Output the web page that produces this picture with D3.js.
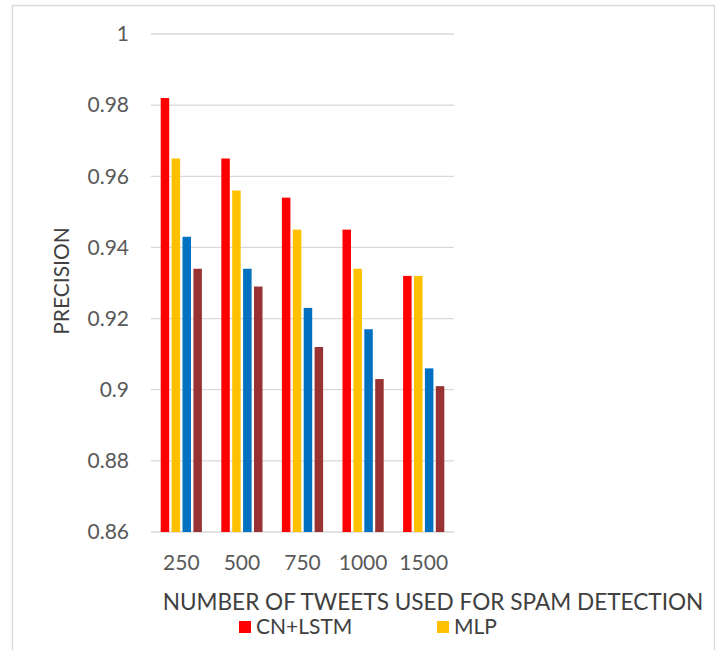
<!DOCTYPE html>
<html>
<head>
<meta charset="utf-8">
<script src="https://cdn.jsdelivr.net/npm/d3@7/dist/d3.min.js"></script>
<style>
  html, body { margin: 0; padding: 0; background: #fff; }
  svg { display: block; }
  text { font-family: Lato, "Open Sans", sans-serif; }
</style>
</head>
<body>
<svg id="chart" width="720" height="650"></svg>
<script>
// Tweet counts on the x axis
const categories = ["250", "500", "750", "1000", "1500"];

// Precision per model, one value per tweet count
const seriesNames = ["CN+LSTM", "MLP", "Series3", "Series4"];
const cnLstm = [0.982, 0.965, 0.954, 0.945, 0.932];
const mlp    = [0.965, 0.956, 0.945, 0.934, 0.932];
const series3 = [0.943, 0.934, 0.923, 0.917, 0.906];
const series4 = [0.934, 0.929, 0.912, 0.903, 0.901];
const seriesValues = [cnLstm, mlp, series3, series4];
const seriesColors = ["#FF0000", "#FFC000", "#0070C0", "#993333"];

// Legend entries shown in the visible first row
const legendEntries = ["CN+LSTM", "MLP"];

// Y axis ticks
const yTicks = [0.86, 0.88, 0.9, 0.92, 0.94, 0.96, 0.98, 1];
const yTickLabels = ["0.86", "0.88", "0.9", "0.92", "0.94", "0.96", "0.98", "1"];

const svg = d3.select("#chart");

// Chart area frame (light outline, open at the bottom)
svg.append("path")
  .attr("d", "M12.5,650 L12.5,5.5 L714.5,5.5 L714.5,650")
  .attr("fill", "none")
  .attr("stroke", "#d9d9d9")
  .attr("stroke-width", 1.3);

const plot = { left: 151, right: 454, top: 34, bottom: 532 };

const x = d3.scaleBand()
  .domain(categories)
  .range([plot.left, plot.right])
  .paddingInner(0.32)
  .paddingOuter(0.16);

const x1 = d3.scaleBand()
  .domain(d3.range(seriesNames.length))
  .range([0, x.bandwidth()])
  .paddingInner(0.22);

const y = d3.scaleLinear()
  .domain([0.86, 1])
  .range([plot.bottom, plot.top]);

// Horizontal gridlines
svg.append("g")
  .selectAll("line")
  .data(yTicks)
  .join("line")
  .attr("x1", plot.left)
  .attr("x2", plot.right)
  .attr("y1", d => y(d))
  .attr("y2", d => y(d))
  .attr("stroke", "#d9d9d9")
  .attr("stroke-width", 1.3);

// Grouped bars
const groups = svg.append("g")
  .selectAll("g")
  .data(categories)
  .join("g")
  .attr("transform", d => `translate(${x(d)},0)`);

groups.selectAll("rect")
  .data((c, i) => seriesValues.map((vals, s) => ({ s, v: vals[i] })))
  .join("rect")
  .attr("x", d => x1(d.s))
  .attr("width", x1.bandwidth())
  .attr("y", d => y(d.v))
  .attr("height", d => y(0.86) - y(d.v))
  .attr("fill", d => seriesColors[d.s]);

// Y axis (labels only)
const yAxis = d3.axisLeft(y)
  .tickValues(yTicks)
  .tickFormat((d, i) => yTickLabels[i])
  .tickSize(0)
  .tickPadding(0);

svg.append("g")
  .attr("transform", "translate(129,0)")
  .call(yAxis)
  .call(g => g.select(".domain").remove())
  .call(g => g.selectAll("text")
    .attr("font-family", "Lato, sans-serif")
    .attr("font-size", 21)
    .attr("fill", "#595959"));

// X axis (labels only)
const xAxis = d3.axisBottom(x).tickSize(0).tickPadding(0);
svg.append("g")
  .attr("transform", `translate(0,${plot.bottom})`)
  .call(xAxis)
  .call(g => g.select(".domain").remove())
  .call(g => g.selectAll("text")
    .attr("dy", null)
    .attr("y", 38)
    .attr("font-family", "Lato, sans-serif")
    .attr("font-size", 21)
    .attr("fill", "#595959"));

// Axis titles
svg.append("text")
  .attr("transform", "translate(69,281) rotate(-90)")
  .attr("text-anchor", "middle")
  .attr("font-size", 21)
  .attr("fill", "#404040")
  .text("PRECISION");

svg.append("text")
  .attr("x", 433)
  .attr("y", 610)
  .attr("text-anchor", "middle")
  .attr("font-size", 22.6)
  .attr("fill", "#404040")
  .text("NUMBER OF TWEETS USED FOR SPAM DETECTION");

// Legend
const legendCols = [239, 437];
const legend = svg.append("g")
  .selectAll("g")
  .data(legendEntries)
  .join("g")
  .attr("transform", (d, i) => `translate(${legendCols[i]},621)`);

legend.append("rect")
  .attr("width", 12)
  .attr("height", 12)
  .attr("fill", d => seriesColors[seriesNames.indexOf(d)]);

legend.append("text")
  .attr("x", 17)
  .attr("y", 13)
  .attr("font-size", 21)
  .attr("fill", "#404040")
  .text(d => d);
</script>
</body>
</html>
